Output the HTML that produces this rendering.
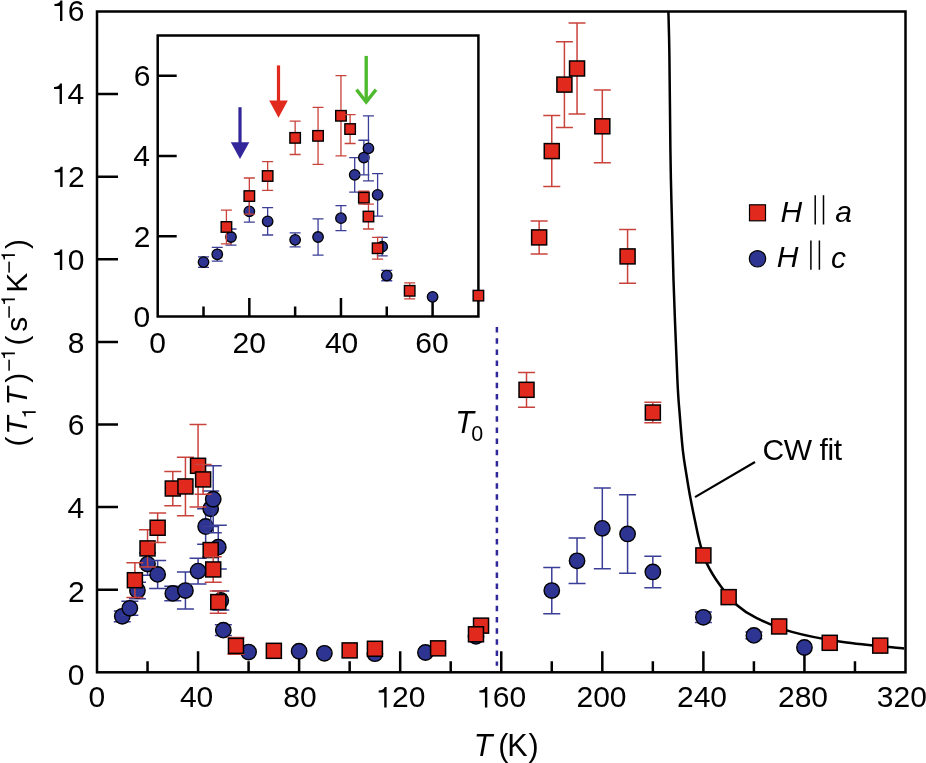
<!DOCTYPE html>
<html><head><meta charset="utf-8"><style>html,body{margin:0;padding:0;background:#fff;}svg{display:block;will-change:transform;}</style></head><body>
<svg width="926" height="763" viewBox="0 0 926 763">
<rect width="926" height="763" fill="#fff"/>
<rect x="97.0" y="11.5" width="808.5" height="660.8" fill="none" stroke="#000" stroke-width="2.5"/>
<path d="M147.53 672.3v-11M198.06 672.3v-21M248.59 672.3v-11M299.12 672.3v-21M349.66 672.3v-11M400.19 672.3v-21M450.72 672.3v-11M501.25 672.3v-21M551.78 672.3v-11M602.31 672.3v-21M652.84 672.3v-11M703.38 672.3v-21M753.91 672.3v-11M804.44 672.3v-21M854.97 672.3v-11M97.0 589.7h21M97.0 507.1h21M97.0 424.5h21M97.0 341.9h21M97.0 259.3h21M97.0 176.7h21M97.0 94.1h21" stroke="#000" stroke-width="2.5" fill="none"/>
<g font-family="Liberation Sans, sans-serif" fill="#000"><text x="88.41" y="707.4" font-size="30">0</text><text x="179.92" y="707.4" font-size="30">4</text><text x="196.6" y="707.4" font-size="30">0</text><text x="283.22" y="707.4" font-size="30">8</text><text x="299.9" y="707.4" font-size="30">0</text><path transform="translate(375.37 707.4) scale(30)" d="M0.375 0L0.375-0.678L0.31-0.678C0.29-0.60 0.23-0.565 0.11-0.56L0.11-0.497L0.295-0.497L0.295 0Z"/><text x="392.06" y="707.4" font-size="30">2</text><text x="408.74" y="707.4" font-size="30">0</text><path transform="translate(476.07 707.4) scale(30)" d="M0.375 0L0.375-0.678L0.31-0.678C0.29-0.60 0.23-0.565 0.11-0.56L0.11-0.497L0.295-0.497L0.295 0Z"/><text x="492.76" y="707.4" font-size="30">6</text><text x="509.44" y="707.4" font-size="30">0</text><text x="576.47" y="707.4" font-size="30">2</text><text x="593.16" y="707.4" font-size="30">0</text><text x="609.84" y="707.4" font-size="30">0</text><text x="676.97" y="707.4" font-size="30">2</text><text x="693.66" y="707.4" font-size="30">4</text><text x="710.34" y="707.4" font-size="30">0</text><text x="777.97" y="707.4" font-size="30">2</text><text x="794.66" y="707.4" font-size="30">8</text><text x="811.34" y="707.4" font-size="30">0</text><text x="876.77" y="707.4" font-size="30">3</text><text x="893.46" y="707.4" font-size="30">2</text><text x="910.14" y="707.4" font-size="30">0</text><text x="67.69" y="684.7" font-size="30">0</text><text x="68.02" y="601.8" font-size="30">2</text><text x="67.39" y="518.3" font-size="30">4</text><text x="67.83" y="435.4" font-size="30">6</text><text x="67.82" y="352.5" font-size="30">8</text><path transform="translate(51 269.9) scale(30)" d="M0.375 0L0.375-0.678L0.31-0.678C0.29-0.60 0.23-0.565 0.11-0.56L0.11-0.497L0.295-0.497L0.295 0Z"/><text x="67.69" y="269.9" font-size="30">0</text><path transform="translate(51.34 187.1) scale(30)" d="M0.375 0L0.375-0.678L0.31-0.678C0.29-0.60 0.23-0.565 0.11-0.56L0.11-0.497L0.295-0.497L0.295 0Z"/><text x="68.02" y="187.1" font-size="30">2</text><path transform="translate(50.71 103.9) scale(30)" d="M0.375 0L0.375-0.678L0.31-0.678C0.29-0.60 0.23-0.565 0.11-0.56L0.11-0.497L0.295-0.497L0.295 0Z"/><text x="67.39" y="103.9" font-size="30">4</text><path transform="translate(51.15 20.9) scale(30)" d="M0.375 0L0.375-0.678L0.31-0.678C0.29-0.60 0.23-0.565 0.11-0.56L0.11-0.497L0.295-0.497L0.295 0Z"/><text x="67.83" y="20.9" font-size="30">6</text></g>
<g font-family="Liberation Sans, sans-serif" font-size="30.5"><text x="473.7" y="756.4" font-style="italic">T</text><text x="498.3" y="756.4">(</text><text x="507.2" y="756.4">K</text><text x="528.4" y="756.4">)</text></g>
<g transform="translate(27.4 445) rotate(-90)" font-family="Liberation Sans, sans-serif" fill="#000"><text x="-1.4" y="0" font-size="30">(</text><text x="10.3" y="0" font-size="30" font-style="italic">T</text><path transform="translate(26.2 8.3) scale(20)" d="M0.375 0L0.375-0.678L0.31-0.678C0.29-0.60 0.23-0.565 0.11-0.56L0.11-0.497L0.295-0.497L0.295 0Z"/><text x="39.5" y="0" font-size="30" font-style="italic">T</text><text x="62.32" y="0" font-size="30">)</text><rect x="74.3" y="-19.05" width="11" height="1.5"/><path transform="translate(84.9 -12.5) scale(20)" d="M0.375 0L0.375-0.678L0.31-0.678C0.29-0.60 0.23-0.565 0.11-0.56L0.11-0.497L0.295-0.497L0.295 0Z"/><text x="99.64" y="0" font-size="30">(</text><text x="113.17" y="0" font-size="30">s</text><rect x="127.3" y="-19.05" width="11.5" height="1.5"/><path transform="translate(138.9 -12.5) scale(20)" d="M0.375 0L0.375-0.678L0.31-0.678C0.29-0.60 0.23-0.565 0.11-0.56L0.11-0.497L0.295-0.497L0.295 0Z"/><text x="152.24" y="0" font-size="30">K</text><rect x="172.4" y="-19.05" width="11" height="1.5"/><path transform="translate(183.2 -12.5) scale(20)" d="M0.375 0L0.375-0.678L0.31-0.678C0.29-0.60 0.23-0.565 0.11-0.56L0.11-0.497L0.295-0.497L0.295 0Z"/><text x="195.92" y="0" font-size="30">)</text></g>
<path d="M496.9 327.1V665.7" stroke="#30289a" stroke-width="2.5" stroke-dasharray="5.5 5.65"/>
<g font-family="Liberation Sans, sans-serif"><text x="455.3" y="432.6" font-size="30.5" font-style="italic">T</text><text x="471.2" y="441.4" font-size="21.5">0</text></g>
<path d="M668.4 11.5C668.57 18.75 669.07 31.92 669.4 55C669.73 78.08 670.07 125.83 670.4 150C670.73 174.17 670.88 178.33 671.4 200C671.92 221.67 672.5 250 673.5 280C674.5 310 676.35 357.43 677.4 380C678.45 402.57 678.88 403.58 679.8 415.4C680.72 427.22 681.8 441.05 682.9 450.9C684 460.75 685.15 466.63 686.4 474.5C687.65 482.37 688.93 490.23 690.4 498.1C691.87 505.97 693.62 514.22 695.2 521.7C696.78 529.18 698 536.1 699.9 543C701.8 549.9 703.15 555.92 706.6 563.1C710.05 570.28 715.52 579.08 720.6 586.1C725.68 593.12 731.15 599.9 737.1 605.2C743.05 610.5 747.17 613.45 756.3 617.9C765.43 622.35 777.47 627.87 791.9 631.9C806.33 635.93 824.2 639.33 842.9 642.1C861.6 644.87 893.9 647.43 904.1 648.5" stroke="#000" stroke-width="2.5" fill="none"/>
<path d="M695 497.1L755 462" stroke="#000" stroke-width="2.2"/>
<text font-family="Liberation Sans, sans-serif" font-size="30" x="762.5" y="460.2" letter-spacing="-0.4">CW fit</text>
<rect x="749.5" y="204.8" width="16" height="16" fill="#e1291e" stroke="#000" stroke-width="1.2"/>
<circle cx="757.5" cy="258.8" r="8.2" fill="#2e3491" stroke="#000" stroke-width="1.2"/>
<g font-family="Liberation Sans, sans-serif" font-size="30" font-style="italic"><text x="780.5" y="222">H</text><text x="835.3" y="222.2">a</text><text x="776.7" y="267.4">H</text><text x="831" y="267.6">c</text></g>
<path d="M815.2 195.3V224.4M823.5 195.3V224.4M810.9 240.4V269.7M819.4 240.4V269.7" stroke="#000" stroke-width="1.5"/>
<path d="M122.27 610.93V621.67M113.77 610.93H130.77M113.77 621.67H130.77" stroke="#3a3e96" stroke-width="1.5" fill="none"/>
<circle cx="122.27" cy="616.3" r="7.7" fill="#2e3491" stroke="#000" stroke-width="1.4"/>
<path d="M129.85 601.26V615.31M121.35 601.26H138.35M121.35 615.31H138.35" stroke="#3a3e96" stroke-width="1.5" fill="none"/>
<circle cx="129.85" cy="608.28" r="7.7" fill="#2e3491" stroke="#000" stroke-width="1.4"/>
<path d="M137.43 582.27V598.79M128.93 582.27H145.93M128.93 598.79H145.93" stroke="#3a3e96" stroke-width="1.5" fill="none"/>
<circle cx="137.43" cy="590.53" r="7.7" fill="#2e3491" stroke="#000" stroke-width="1.4"/>
<path d="M147.53 552.94V575.25M139.03 552.94H156.03M139.03 575.25H156.03" stroke="#3a3e96" stroke-width="1.5" fill="none"/>
<circle cx="147.53" cy="564.09" r="7.7" fill="#2e3491" stroke="#000" stroke-width="1.4"/>
<path d="M157.64 560.38V588.46M149.14 560.38H166.14M149.14 588.46H166.14" stroke="#3a3e96" stroke-width="1.5" fill="none"/>
<circle cx="157.64" cy="574.42" r="7.7" fill="#2e3491" stroke="#000" stroke-width="1.4"/>
<path d="M172.8 586.19V600.64M164.3 586.19H181.3M164.3 600.64H181.3" stroke="#3a3e96" stroke-width="1.5" fill="none"/>
<circle cx="172.8" cy="593.42" r="7.7" fill="#2e3491" stroke="#000" stroke-width="1.4"/>
<path d="M185.43 571.94V609.11M176.93 571.94H193.93M176.93 609.11H193.93" stroke="#3a3e96" stroke-width="1.5" fill="none"/>
<circle cx="185.43" cy="590.53" r="7.7" fill="#2e3491" stroke="#000" stroke-width="1.4"/>
<path d="M198.06 558.31V583.92M189.56 558.31H206.56M189.56 583.92H206.56" stroke="#3a3e96" stroke-width="1.5" fill="none"/>
<circle cx="198.06" cy="571.12" r="7.7" fill="#2e3491" stroke="#000" stroke-width="1.4"/>
<path d="M205.64 508.75V544.27M197.14 508.75H214.14M197.14 544.27H214.14" stroke="#3a3e96" stroke-width="1.5" fill="none"/>
<circle cx="205.64" cy="526.51" r="7.7" fill="#2e3491" stroke="#000" stroke-width="1.4"/>
<path d="M210.7 490.99V526.51M202.2 490.99H219.2M202.2 526.51H219.2" stroke="#3a3e96" stroke-width="1.5" fill="none"/>
<circle cx="210.7" cy="508.75" r="7.7" fill="#2e3491" stroke="#000" stroke-width="1.4"/>
<path d="M213.22 465.8V532.71M204.72 465.8H221.72M204.72 532.71H221.72" stroke="#3a3e96" stroke-width="1.5" fill="none"/>
<circle cx="213.22" cy="499.25" r="7.7" fill="#2e3491" stroke="#000" stroke-width="1.4"/>
<path d="M218.28 525.27V569.05M209.78 525.27H226.78M209.78 569.05H226.78" stroke="#3a3e96" stroke-width="1.5" fill="none"/>
<circle cx="218.28" cy="547.16" r="7.7" fill="#2e3491" stroke="#000" stroke-width="1.4"/>
<path d="M220.8 590.94V609.94M212.3 590.94H229.3M212.3 609.94H229.3" stroke="#3a3e96" stroke-width="1.5" fill="none"/>
<circle cx="220.8" cy="600.44" r="7.7" fill="#2e3491" stroke="#000" stroke-width="1.4"/>
<path d="M223.33 624.8V635.54M214.83 624.8H231.83M214.83 635.54H231.83" stroke="#3a3e96" stroke-width="1.5" fill="none"/>
<circle cx="223.33" cy="630.17" r="7.7" fill="#2e3491" stroke="#000" stroke-width="1.4"/>
<circle cx="248.59" cy="652.06" r="7.7" fill="#2e3491" stroke="#000" stroke-width="1.4"/>
<circle cx="299.12" cy="651.24" r="7.7" fill="#2e3491" stroke="#000" stroke-width="1.4"/>
<circle cx="324.39" cy="653.3" r="7.7" fill="#2e3491" stroke="#000" stroke-width="1.4"/>
<circle cx="374.92" cy="653.71" r="7.7" fill="#2e3491" stroke="#000" stroke-width="1.4"/>
<circle cx="425.45" cy="652.48" r="7.7" fill="#2e3491" stroke="#000" stroke-width="1.4"/>
<circle cx="475.98" cy="636.37" r="7.7" fill="#2e3491" stroke="#000" stroke-width="1.4"/>
<path d="M551.78 567.4V613.65M543.28 567.4H560.28M543.28 613.65H560.28" stroke="#3a3e96" stroke-width="1.5" fill="none"/>
<circle cx="551.78" cy="590.53" r="7.7" fill="#2e3491" stroke="#000" stroke-width="1.4"/>
<path d="M577.05 538.07V583.5M568.55 538.07H585.55M568.55 583.5H585.55" stroke="#3a3e96" stroke-width="1.5" fill="none"/>
<circle cx="577.05" cy="560.79" r="7.7" fill="#2e3491" stroke="#000" stroke-width="1.4"/>
<path d="M602.31 488.1V568.64M593.81 488.1H610.81M593.81 568.64H610.81" stroke="#3a3e96" stroke-width="1.5" fill="none"/>
<circle cx="602.31" cy="528.37" r="7.7" fill="#2e3491" stroke="#000" stroke-width="1.4"/>
<path d="M627.58 494.71V573.18M619.08 494.71H636.08M619.08 573.18H636.08" stroke="#3a3e96" stroke-width="1.5" fill="none"/>
<circle cx="627.58" cy="533.94" r="7.7" fill="#2e3491" stroke="#000" stroke-width="1.4"/>
<path d="M652.84 556.25V587.63M644.34 556.25H661.34M644.34 587.63H661.34" stroke="#3a3e96" stroke-width="1.5" fill="none"/>
<circle cx="652.84" cy="571.94" r="7.7" fill="#2e3491" stroke="#000" stroke-width="1.4"/>
<path d="M703.38 612.04V622.53M694.88 612.04H711.88M694.88 622.53H711.88" stroke="#3a3e96" stroke-width="1.5" fill="none"/>
<circle cx="703.38" cy="617.29" r="7.7" fill="#2e3491" stroke="#000" stroke-width="1.4"/>
<path d="M753.91 632.12V638.72M745.41 632.12H762.41M745.41 638.72H762.41" stroke="#3a3e96" stroke-width="1.5" fill="none"/>
<circle cx="753.91" cy="635.42" r="7.7" fill="#2e3491" stroke="#000" stroke-width="1.4"/>
<circle cx="804.44" cy="647.52" r="7.7" fill="#2e3491" stroke="#000" stroke-width="1.4"/>
<path d="M134.9 562.86V597.55M126.4 562.86H143.4M126.4 597.55H143.4" stroke="#c9433d" stroke-width="1.5" fill="none"/>
<rect x="127.4" y="572.7" width="15" height="15" fill="#e1291e" stroke="#000" stroke-width="1.5"/>
<path d="M147.53 529.81V566.99M139.03 529.81H156.03M139.03 566.99H156.03" stroke="#c9433d" stroke-width="1.5" fill="none"/>
<rect x="140.03" y="540.9" width="15" height="15" fill="#e1291e" stroke="#000" stroke-width="1.5"/>
<path d="M157.64 512.88V542.62M149.14 512.88H166.14M149.14 542.62H166.14" stroke="#c9433d" stroke-width="1.5" fill="none"/>
<rect x="150.14" y="520.25" width="15" height="15" fill="#e1291e" stroke="#000" stroke-width="1.5"/>
<path d="M172.8 471.38V505.65M164.3 471.38H181.3M164.3 505.65H181.3" stroke="#c9433d" stroke-width="1.5" fill="none"/>
<rect x="165.3" y="481.01" width="15" height="15" fill="#e1291e" stroke="#000" stroke-width="1.5"/>
<path d="M185.43 457.13V515.77M176.93 457.13H193.93M176.93 515.77H193.93" stroke="#c9433d" stroke-width="1.5" fill="none"/>
<rect x="177.93" y="478.95" width="15" height="15" fill="#e1291e" stroke="#000" stroke-width="1.5"/>
<path d="M198.06 424.5V507.1M189.56 424.5H206.56M189.56 507.1H206.56" stroke="#c9433d" stroke-width="1.5" fill="none"/>
<rect x="190.56" y="458.3" width="15" height="15" fill="#e1291e" stroke="#000" stroke-width="1.5"/>
<path d="M203.12 464.56V494.3M194.62 464.56H211.62M194.62 494.3H211.62" stroke="#c9433d" stroke-width="1.5" fill="none"/>
<rect x="195.62" y="471.93" width="15" height="15" fill="#e1291e" stroke="#000" stroke-width="1.5"/>
<path d="M210.7 543.44V556.66M202.2 543.44H219.2M202.2 556.66H219.2" stroke="#c9433d" stroke-width="1.5" fill="none"/>
<rect x="203.2" y="542.55" width="15" height="15" fill="#e1291e" stroke="#000" stroke-width="1.5"/>
<path d="M213.22 556.66V582.27M204.72 556.66H221.72M204.72 582.27H221.72" stroke="#c9433d" stroke-width="1.5" fill="none"/>
<rect x="205.72" y="561.96" width="15" height="15" fill="#e1291e" stroke="#000" stroke-width="1.5"/>
<path d="M218.28 590.94V613.24M209.78 590.94H226.78M209.78 613.24H226.78" stroke="#c9433d" stroke-width="1.5" fill="none"/>
<rect x="210.78" y="594.59" width="15" height="15" fill="#e1291e" stroke="#000" stroke-width="1.5"/>
<path d="M235.96 637.61V654.13M227.46 637.61H244.46M227.46 654.13H244.46" stroke="#c9433d" stroke-width="1.5" fill="none"/>
<rect x="228.46" y="638.37" width="15" height="15" fill="#e1291e" stroke="#000" stroke-width="1.5"/>
<rect x="266.36" y="643.32" width="15" height="15" fill="#e1291e" stroke="#000" stroke-width="1.5"/>
<rect x="342.16" y="642.91" width="15" height="15" fill="#e1291e" stroke="#000" stroke-width="1.5"/>
<rect x="367.42" y="641.26" width="15" height="15" fill="#e1291e" stroke="#000" stroke-width="1.5"/>
<rect x="430.59" y="640.85" width="15" height="15" fill="#e1291e" stroke="#000" stroke-width="1.5"/>
<rect x="473.54" y="618.13" width="15" height="15" fill="#e1291e" stroke="#000" stroke-width="1.5"/>
<rect x="468.48" y="626.8" width="15" height="15" fill="#e1291e" stroke="#000" stroke-width="1.5"/>
<path d="M526.52 372.46V407.15M518.02 372.46H535.02M518.02 407.15H535.02" stroke="#c9433d" stroke-width="1.5" fill="none"/>
<rect x="519.02" y="382.31" width="15" height="15" fill="#e1291e" stroke="#000" stroke-width="1.5"/>
<path d="M539.15 220.89V253.93M530.65 220.89H547.65M530.65 253.93H547.65" stroke="#c9433d" stroke-width="1.5" fill="none"/>
<rect x="531.65" y="229.91" width="15" height="15" fill="#e1291e" stroke="#000" stroke-width="1.5"/>
<path d="M551.78 115.58V186.61M543.28 115.58H560.28M543.28 186.61H560.28" stroke="#c9433d" stroke-width="1.5" fill="none"/>
<rect x="544.28" y="143.59" width="15" height="15" fill="#e1291e" stroke="#000" stroke-width="1.5"/>
<path d="M564.41 41.65V127.55M555.91 41.65H572.91M555.91 127.55H572.91" stroke="#c9433d" stroke-width="1.5" fill="none"/>
<rect x="556.91" y="77.1" width="15" height="15" fill="#e1291e" stroke="#000" stroke-width="1.5"/>
<path d="M577.05 23.06V113.92M568.55 23.06H585.55M568.55 113.92H585.55" stroke="#c9433d" stroke-width="1.5" fill="none"/>
<rect x="569.55" y="60.99" width="15" height="15" fill="#e1291e" stroke="#000" stroke-width="1.5"/>
<path d="M602.31 89.97V162.66M593.81 89.97H610.81M593.81 162.66H610.81" stroke="#c9433d" stroke-width="1.5" fill="none"/>
<rect x="594.81" y="118.81" width="15" height="15" fill="#e1291e" stroke="#000" stroke-width="1.5"/>
<path d="M627.58 229.56V283.25M619.08 229.56H636.08M619.08 283.25H636.08" stroke="#c9433d" stroke-width="1.5" fill="none"/>
<rect x="620.08" y="248.91" width="15" height="15" fill="#e1291e" stroke="#000" stroke-width="1.5"/>
<path d="M652.84 402.2V422.85M644.34 402.2H661.34M644.34 422.85H661.34" stroke="#c9433d" stroke-width="1.5" fill="none"/>
<rect x="645.34" y="405.02" width="15" height="15" fill="#e1291e" stroke="#000" stroke-width="1.5"/>
<rect x="695.88" y="547.92" width="15" height="15" fill="#e1291e" stroke="#000" stroke-width="1.5"/>
<rect x="721.14" y="589.63" width="15" height="15" fill="#e1291e" stroke="#000" stroke-width="1.5"/>
<rect x="771.67" y="618.96" width="15" height="15" fill="#e1291e" stroke="#000" stroke-width="1.5"/>
<rect x="822.2" y="635.31" width="15" height="15" fill="#e1291e" stroke="#000" stroke-width="1.5"/>
<rect x="872.73" y="638.12" width="15" height="15" fill="#e1291e" stroke="#000" stroke-width="1.5"/>
<rect x="157.7" y="35.5" width="320.7" height="281" fill="#fff" stroke="#000" stroke-width="2.5"/>
<path d="M203.51 316.5v-10M249.33 316.5v-18.5M295.14 316.5v-10M340.96 316.5v-18.5M386.77 316.5v-10M432.59 316.5v-18.5M157.7 236.21h19M157.7 155.93h19M157.7 75.64h19" stroke="#000" stroke-width="2.5" fill="none"/>
<g font-family="Liberation Sans, sans-serif" fill="#000"><text x="149.26" y="352.8" font-size="30">0</text><text x="232.52" y="352.8" font-size="30">2</text><text x="249.2" y="352.8" font-size="30">0</text><text x="324.92" y="352.8" font-size="30">4</text><text x="341.6" y="352.8" font-size="30">0</text><text x="415.32" y="352.8" font-size="30">6</text><text x="432" y="352.8" font-size="30">0</text><text x="133.49" y="326.9" font-size="30">0</text><text x="133.82" y="246.61" font-size="30">2</text><text x="133.19" y="166.33" font-size="30">4</text><text x="133.63" y="86.04" font-size="30">6</text></g>
<path d="M203.51 256.85V267.28M198.01 256.85H209.01M198.01 267.28H209.01" stroke="#3a3e96" stroke-width="1.3" fill="none"/>
<circle cx="203.51" cy="262.07" r="5.25" fill="#2e3491" stroke="#000" stroke-width="1.3"/>
<path d="M217.26 247.45V261.1M211.76 247.45H222.76M211.76 261.1H222.76" stroke="#3a3e96" stroke-width="1.3" fill="none"/>
<circle cx="217.26" cy="254.28" r="5.25" fill="#2e3491" stroke="#000" stroke-width="1.3"/>
<path d="M231 228.99V245.05M225.5 228.99H236.5M225.5 245.05H236.5" stroke="#3a3e96" stroke-width="1.3" fill="none"/>
<circle cx="231" cy="237.02" r="5.25" fill="#2e3491" stroke="#000" stroke-width="1.3"/>
<path d="M249.33 200.49V222.16M243.83 200.49H254.83M243.83 222.16H254.83" stroke="#3a3e96" stroke-width="1.3" fill="none"/>
<circle cx="249.33" cy="211.33" r="5.25" fill="#2e3491" stroke="#000" stroke-width="1.3"/>
<path d="M267.65 207.71V235.01M262.15 207.71H273.15M262.15 235.01H273.15" stroke="#3a3e96" stroke-width="1.3" fill="none"/>
<circle cx="267.65" cy="221.36" r="5.25" fill="#2e3491" stroke="#000" stroke-width="1.3"/>
<path d="M295.14 232.8V246.85M289.64 232.8H300.64M289.64 246.85H300.64" stroke="#3a3e96" stroke-width="1.3" fill="none"/>
<circle cx="295.14" cy="239.83" r="5.25" fill="#2e3491" stroke="#000" stroke-width="1.3"/>
<path d="M318.05 218.95V255.08M312.55 218.95H323.55M312.55 255.08H323.55" stroke="#3a3e96" stroke-width="1.3" fill="none"/>
<circle cx="318.05" cy="237.02" r="5.25" fill="#2e3491" stroke="#000" stroke-width="1.3"/>
<path d="M340.96 205.71V230.59M335.46 205.71H346.46M335.46 230.59H346.46" stroke="#3a3e96" stroke-width="1.3" fill="none"/>
<circle cx="340.96" cy="218.15" r="5.25" fill="#2e3491" stroke="#000" stroke-width="1.3"/>
<path d="M354.7 157.53V192.06M349.2 157.53H360.2M349.2 192.06H360.2" stroke="#3a3e96" stroke-width="1.3" fill="none"/>
<circle cx="354.7" cy="174.8" r="5.25" fill="#2e3491" stroke="#000" stroke-width="1.3"/>
<path d="M363.86 140.27V174.8M358.36 140.27H369.36M358.36 174.8H369.36" stroke="#3a3e96" stroke-width="1.3" fill="none"/>
<circle cx="363.86" cy="157.53" r="5.25" fill="#2e3491" stroke="#000" stroke-width="1.3"/>
<path d="M368.45 115.79V180.82M362.95 115.79H373.95M362.95 180.82H373.95" stroke="#3a3e96" stroke-width="1.3" fill="none"/>
<circle cx="368.45" cy="148.3" r="5.25" fill="#2e3491" stroke="#000" stroke-width="1.3"/>
<path d="M377.61 173.59V216.14M372.11 173.59H383.11M372.11 216.14H383.11" stroke="#3a3e96" stroke-width="1.3" fill="none"/>
<circle cx="377.61" cy="194.87" r="5.25" fill="#2e3491" stroke="#000" stroke-width="1.3"/>
<path d="M382.19 237.42V255.88M376.69 237.42H387.69M376.69 255.88H387.69" stroke="#3a3e96" stroke-width="1.3" fill="none"/>
<circle cx="382.19" cy="246.65" r="5.25" fill="#2e3491" stroke="#000" stroke-width="1.3"/>
<path d="M386.77 270.34V280.77M381.27 270.34H392.27M381.27 280.77H392.27" stroke="#3a3e96" stroke-width="1.3" fill="none"/>
<circle cx="386.77" cy="275.55" r="5.25" fill="#2e3491" stroke="#000" stroke-width="1.3"/>
<circle cx="432.59" cy="296.83" r="5.25" fill="#2e3491" stroke="#000" stroke-width="1.3"/>
<path d="M226.42 210.12V243.84M220.92 210.12H231.92M220.92 243.84H231.92" stroke="#c9433d" stroke-width="1.3" fill="none"/>
<rect x="221.17" y="221.73" width="10.5" height="10.5" fill="#e1291e" stroke="#000" stroke-width="1.4"/>
<path d="M249.33 178.01V214.14M243.83 178.01H254.83M243.83 214.14H254.83" stroke="#c9433d" stroke-width="1.3" fill="none"/>
<rect x="244.08" y="190.82" width="10.5" height="10.5" fill="#e1291e" stroke="#000" stroke-width="1.4"/>
<path d="M267.65 161.55V190.45M262.15 161.55H273.15M262.15 190.45H273.15" stroke="#c9433d" stroke-width="1.3" fill="none"/>
<rect x="262.4" y="170.75" width="10.5" height="10.5" fill="#e1291e" stroke="#000" stroke-width="1.4"/>
<path d="M295.14 121.2V154.52M289.64 121.2H300.64M289.64 154.52H300.64" stroke="#c9433d" stroke-width="1.3" fill="none"/>
<rect x="289.89" y="132.61" width="10.5" height="10.5" fill="#e1291e" stroke="#000" stroke-width="1.4"/>
<path d="M318.05 107.36V164.36M312.55 107.36H323.55M312.55 164.36H323.55" stroke="#c9433d" stroke-width="1.3" fill="none"/>
<rect x="312.8" y="130.61" width="10.5" height="10.5" fill="#e1291e" stroke="#000" stroke-width="1.4"/>
<path d="M340.96 75.64V155.93M335.46 75.64H346.46M335.46 155.93H346.46" stroke="#c9433d" stroke-width="1.3" fill="none"/>
<rect x="335.71" y="110.54" width="10.5" height="10.5" fill="#e1291e" stroke="#000" stroke-width="1.4"/>
<path d="M350.12 114.58V143.48M344.62 114.58H355.62M344.62 143.48H355.62" stroke="#c9433d" stroke-width="1.3" fill="none"/>
<rect x="344.87" y="123.78" width="10.5" height="10.5" fill="#e1291e" stroke="#000" stroke-width="1.4"/>
<path d="M363.86 191.25V204.1M358.36 191.25H369.36M358.36 204.1H369.36" stroke="#c9433d" stroke-width="1.3" fill="none"/>
<rect x="358.61" y="192.43" width="10.5" height="10.5" fill="#e1291e" stroke="#000" stroke-width="1.4"/>
<path d="M368.45 204.1V228.99M362.95 204.1H373.95M362.95 228.99H373.95" stroke="#c9433d" stroke-width="1.3" fill="none"/>
<rect x="363.2" y="211.29" width="10.5" height="10.5" fill="#e1291e" stroke="#000" stroke-width="1.4"/>
<path d="M377.61 237.42V259.1M372.11 237.42H383.11M372.11 259.1H383.11" stroke="#c9433d" stroke-width="1.3" fill="none"/>
<rect x="372.36" y="243.01" width="10.5" height="10.5" fill="#e1291e" stroke="#000" stroke-width="1.4"/>
<path d="M409.68 282.78V298.84M404.18 282.78H415.18M404.18 298.84H415.18" stroke="#c9433d" stroke-width="1.3" fill="none"/>
<rect x="404.43" y="285.56" width="10.5" height="10.5" fill="#e1291e" stroke="#000" stroke-width="1.4"/>
<rect x="473.15" y="290.38" width="10.5" height="10.5" fill="#e1291e" stroke="#000" stroke-width="1.4"/>
<path d="M240 107.2V143" stroke="#33269a" stroke-width="3.2"/><path d="M230.8 142.2H249.3L240 159.1Z" fill="#33269a"/>
<path d="M278.5 65.4V101" stroke="#e1291e" stroke-width="3.2"/><path d="M269.2 100.4H287.8L278.5 117.7Z" fill="#e1291e"/>
<path d="M366.2 55.9V102" stroke="#4fba2f" stroke-width="3.4"/><path d="M356.5 89.6L366.2 102L376 89.6" stroke="#4fba2f" stroke-width="3.4" fill="none"/>
</svg>
</body></html>
